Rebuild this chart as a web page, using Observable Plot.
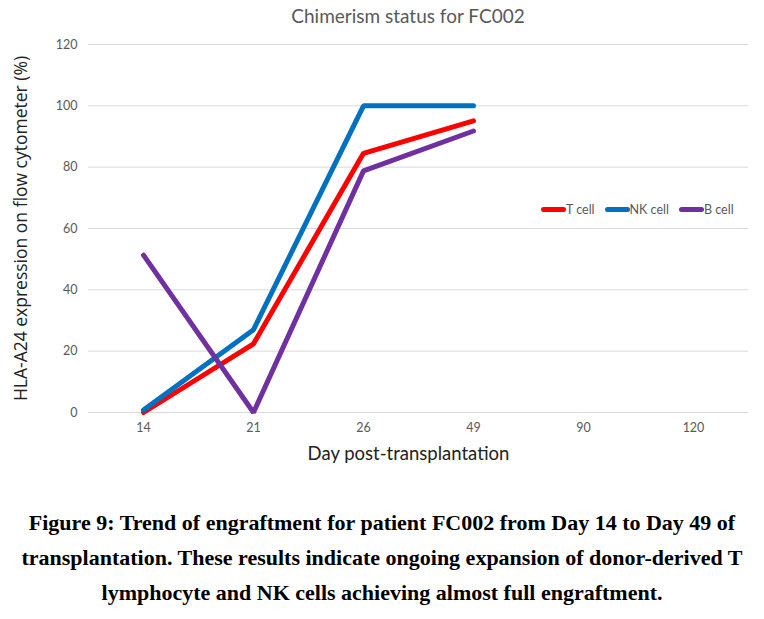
<!DOCTYPE html>
<html>
<head>
<meta charset="utf-8">
<script src="https://cdn.jsdelivr.net/npm/d3@7"></script>
<script src="https://cdn.jsdelivr.net/npm/@observablehq/plot@0.6"></script>
<style>
  body { margin: 0; background: #fff; }
  #wrap { position: relative; width: 764px; }
  #title { position: relative; height: 30px; width: 764px; font-family: Lato, sans-serif; font-size: 19px; color: #595959; }
  #title span { position: absolute; left: 408px; top: 4px; transform: translateX(-50%); white-space: nowrap; }
  #legend { position: absolute; top: 202px; left: 541px; display: flex; font-family: Lato, sans-serif; font-size: 12.5px; color: #595959; }
  .item { display: flex; align-items: center; margin-right: 10px; }
  .sw { width: 25px; height: 5px; border-radius: 3px; margin-right: 0px; }
  #caption { margin-top: 30px; text-align: center; font-family: "Liberation Serif", "Times New Roman", serif; font-weight: bold; font-size: 22px; line-height: 35px; color: #000; }
</style>
</head>
<body>
<div id="wrap">
  <div id="title"><span></span></div>
  <div id="chart"></div>
  <div id="legend"></div>
  <div id="caption"></div>
</div>
<script>
const days = ["14", "21", "26", "49", "90", "120"];
const seriesNames = ["T cell", "NK cell", "B cell"];
const seriesColors = ["#FF0000", "#0070C0", "#7030A0"];
const tCell = [0, 22.4, 84.5, 95.1];
const nkCell = [0.8, 27, 100, 100];
const bCell = [51.3, 0, 78.8, 91.8];
const yTicks = [0, 20, 40, 60, 80, 100, 120];
const titleText = "Chimerism status for FC002";
const xLabel = "Day post-transplantation";
const yLabel = "HLA-A24 expression on flow cytometer (%)";
const captionLines = [
  "Figure 9: Trend of engraftment for patient FC002 from Day 14 to Day 49 of",
  "transplantation. These results indicate ongoing expansion of donor-derived T",
  "lymphocyte and NK cells achieving almost full engraftment."
];

const seriesValues = [tCell, nkCell, bCell];
const data = [];
seriesNames.forEach((s, i) => {
  seriesValues[i].forEach((v, j) => data.push({series: s, day: days[j], value: v}));
});

document.querySelector("#title span").textContent = titleText;

const chart = Plot.plot({
  width: 764,
  height: 445,
  marginTop: 14,
  marginBottom: 63,
  marginLeft: 88,
  marginRight: 16,
  style: {fontFamily: "Lato, sans-serif", fontSize: "12.5px", color: "#595959", background: "#fff"},
  x: {type: "point", domain: days, padding: 0.5},
  y: {domain: [0, 120]},
  color: {domain: seriesNames, range: seriesColors},
  marks: [
    Plot.gridY(yTicks, {stroke: "#d9d9d9", strokeOpacity: 1}),
    Plot.axisY(yTicks, {tickSize: 0, tickPadding: 11, fill: "#595959", label: null}),
    Plot.axisX({tickSize: 0, tickPadding: 11, fill: "#595959", label: null}),
    Plot.line(data, {x: "day", y: "value", z: "series", stroke: "series", strokeWidth: 5, strokeLinecap: "round", strokeLinejoin: "miter"}),
    Plot.text([xLabel], {frameAnchor: "bottom", text: d => d, dy: 47, dx: -10, fontSize: 18.5, fill: "#222", fontFamily: "Lato, sans-serif", textAnchor: "middle"}),
    Plot.text([yLabel], {frameAnchor: "left", text: d => d, rotate: -90, dx: -67, fontSize: 17.5, fill: "#222", fontFamily: "'Open Sans', sans-serif", textAnchor: "middle"})
  ]
});
document.getElementById("chart").appendChild(chart);

const legend = document.getElementById("legend");
seriesNames.forEach((s, i) => {
  const it = document.createElement("div");
  it.className = "item";
  const sw = document.createElement("div");
  sw.className = "sw";
  sw.style.background = seriesColors[i];
  const t = document.createElement("span");
  t.textContent = s;
  it.appendChild(sw); it.appendChild(t);
  legend.appendChild(it);
});

document.getElementById("caption").innerHTML = captionLines.map(l => l.replace(/&/g, "&amp;")).join("<br>");
</script>
</body>
</html>
